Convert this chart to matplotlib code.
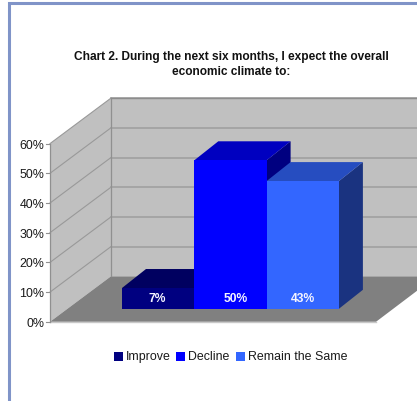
import matplotlib
matplotlib.use("Agg")
import matplotlib.pyplot as plt
from matplotlib.patches import Polygon

plt.rcParams['font.family'] = ['Liberation Sans', 'DejaVu Sans']

# chart values
categories = ["Improve", "Decline", "Remain the Same"]
values = [7, 50, 43]
axis_ticks = [0, 10, 20, 30, 40, 50, 60]
title_lines = ["Chart 2. During the next six months, I expect the overall",
               "economic climate to:"]

front_colors = ["#000080", "#0000ff", "#3366ff"]
top_colors = ["#000060", "#0000c0", "#264dc0"]
side_colors = ["#000050", "#000080", "#1a3380"]
label_shift = [-1, 5, 0]

W, H = 417, 402

# box layout in pixels
X0, Y0 = 50, 322.8
PX_PER_PCT = 2.97
WALL_DX, WALL_DY = 61, -45.5
FLOOR_W = 326
BAR_X0, BAR_W = 122, 72.3
BAR_BASE = 309.8
BAR_DX, BAR_DY = 24, -19


def val_y(v):
    return Y0 - v * PX_PER_PCT


fig = plt.figure(figsize=(W / 100, H / 100), dpi=100, facecolor="white")
ax = fig.add_axes([0, 0, 1, 1])
ax.set_xlim(0, W)
ax.set_ylim(H, 0)
ax.axis("off")

# page frame
ax.plot([9.5, 9.5, W], [H, 3.8, 3.8], color="#8094c8", lw=2.2, solid_joinstyle="miter", clip_on=False)

# walls and floor
top = val_y(axis_ticks[-1])
ax.add_patch(Polygon([(X0 + WALL_DX, top + WALL_DY), (W, top + WALL_DY), (W, Y0 + WALL_DY), (X0 + WALL_DX, Y0 + WALL_DY)],
                     fc="#c0c0c0", ec="none"))
ax.add_patch(Polygon([(X0, top), (X0 + WALL_DX, top + WALL_DY), (X0 + WALL_DX, Y0 + WALL_DY), (X0, Y0)],
                     fc="#c0c0c0", ec="none"))
ax.add_patch(Polygon([(X0, Y0), (X0 + WALL_DX, Y0 + WALL_DY), (W, Y0 + WALL_DY), (W, Y0 - 31), (X0 + FLOOR_W, Y0)],
                     fc="#808080", ec="none"))
ax.plot([X0, X0 + FLOOR_W], [Y0 + 0.5, Y0 + 0.5], color="#c8c8c8", lw=1)

# gridlines on both walls
for t in axis_ticks:
    y = val_y(t)
    if t > 0:
        ax.plot([X0, X0 + WALL_DX], [y, y + WALL_DY], color="#999999", lw=0.8)
        ax.plot([X0 + WALL_DX, W], [y + WALL_DY, y + WALL_DY], color="#a0a0a0", lw=1.2)
    ax.plot([X0 - 4, X0], [y, y], color="#909090", lw=0.8)
    ax.text(X0 - 5.5, y + 1, f"{t}%", ha="right", va="center", fontsize=8.9, color="#1a1a1a")
ax.plot([X0, X0], [top, Y0], color="#909090", lw=0.9)
ax.plot([X0 + WALL_DX, X0 + WALL_DX], [top + WALL_DY, Y0 + WALL_DY], color="#909090", lw=0.9)
ax.plot([X0 + WALL_DX, W], [top + WALL_DY, top + WALL_DY], color="#8c8c8c", lw=1)

# bars
for i, v in enumerate(values):
    x1 = BAR_X0 + i * BAR_W
    x2 = x1 + BAR_W
    yt = BAR_BASE - v * PX_PER_PCT
    ax.add_patch(Polygon([(x2, BAR_BASE), (x2 + BAR_DX, BAR_BASE + BAR_DY), (x2 + BAR_DX, yt + BAR_DY), (x2, yt)],
                         fc=side_colors[i], ec="none", zorder=3 + i))
    ax.add_patch(Polygon([(x1, yt), (x1 + BAR_DX, yt + BAR_DY), (x2 + BAR_DX, yt + BAR_DY), (x2, yt)],
                         fc=top_colors[i], ec="none", zorder=3 + i))
    ax.add_patch(Polygon([(x1, BAR_BASE), (x2, BAR_BASE), (x2, yt), (x1, yt)],
                         fc=front_colors[i], ec="none", zorder=3 + i))
    ax.text((x1 + x2) / 2 + label_shift[i], 299.5, f"{v}%", ha="center", va="center", color="#f4f4ff",
            fontsize=8.7, fontweight="bold", zorder=8)

# title
ax.text(231, 56.7, title_lines[0], ha="center", va="center", fontsize=8.6, fontweight="bold", color="#111111")
ax.text(231, 71.7, title_lines[1], ha="center", va="center", fontsize=8.6, fontweight="bold", color="#111111")

# legend
legend_x = [114, 176, 236]
for lx, name, col in zip(legend_x, categories, front_colors):
    ax.add_patch(Polygon([(lx, 353), (lx + 9, 353), (lx + 9, 362), (lx, 362)], fc=col, ec="none"))
    ax.text(lx + 12, 357, name, ha="left", va="center", fontsize=8.9, color="#1a1a1a")

fig.savefig("out.png", dpi=100)
